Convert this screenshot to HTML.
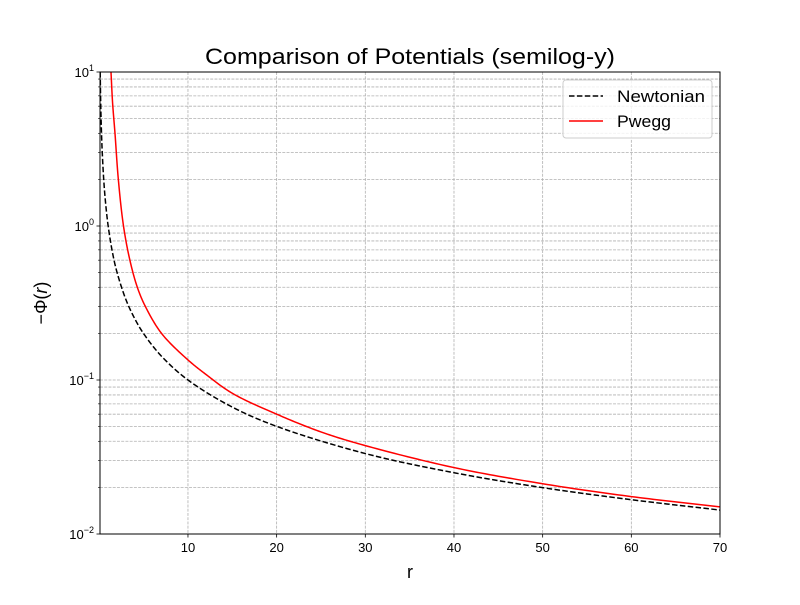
<!DOCTYPE html>
<html><head><meta charset="utf-8"><style>
body{margin:0;background:#fff;}
svg text{font-family:"Liberation Sans","DejaVu Sans",sans-serif;}
</style></head><body>
<svg id="chart" width="800" height="600" xmlns="http://www.w3.org/2000/svg">
<rect width="800" height="600" fill="#fff"/>
<g id="grid"></g>
<g id="series"></g>
<rect x="100" y="72" width="620" height="462" fill="none" stroke="#000" stroke-width="1"/>
<g id="ticks"></g>
<text x="205" y="64" font-size="22" textLength="410" lengthAdjust="spacingAndGlyphs">Comparison of Potentials (semilog-y)</text>
<text x="410" y="578" font-size="18" text-anchor="middle">r</text>
<text transform="translate(47,303) rotate(-90)" font-size="18" text-anchor="middle">−Φ(<tspan font-style="italic">r</tspan>)</text>
<g>
<rect x="563" y="80" width="149" height="58" rx="3" fill="#fff" fill-opacity="0.8" stroke="#ccc"/>
<line x1="569" y1="96" x2="603" y2="96" stroke="#000" stroke-width="1.5" stroke-dasharray="5.5,2.4"/>
<text x="617" y="102" font-size="17" textLength="88" lengthAdjust="spacingAndGlyphs">Newtonian</text>
<line x1="569" y1="121" x2="603" y2="121" stroke="#f00" stroke-width="1.5"/>
<text x="617" y="127" font-size="17" textLength="54" lengthAdjust="spacingAndGlyphs">Pwegg</text>
</g>
</svg>
<script>
const xTicks=[10,20,30,40,50,60,70];
const yDecades=[-2,-1,0,1];
const newtonR=[0.1,0.15,0.2,0.3,0.5,0.7,1,1.5,2,3,4,5,7,10,15,20,30,40,50,60,70];
const newtonV=[10,6.67,5,3.33,2,1.43,1,0.667,0.5,0.333,0.25,0.2,0.143,0.1,0.0667,0.05,0.0333,0.025,0.02,0.0167,0.0143];
const pweggR=[1.32,1.5,1.77,2.15,2.73,3.45,4.29,5.2,7.04,10,12,15,20,25,30,40,50,60,70];
const pweggV=[10,6.3,4,2,1,0.6,0.4,0.3,0.2,0.135,0.109,0.082,0.060,0.046,0.0375,0.0270,0.0212,0.0175,0.0150];
const X0=100,X1=720,Y0=534,Y1=72,xMin=0.08,xMax=70,lMin=-2,lMax=1;
const sx=r=>X0+(r-xMin)/(xMax-xMin)*(X1-X0);
const sy=v=>Y0-(Math.log10(v)-lMin)/(lMax-lMin)*(Y0-Y1);
const NS="http://www.w3.org/2000/svg";
function mk(tag,attrs,parent){const e=document.createElementNS(NS,tag);for(const k in attrs)e.setAttribute(k,attrs[k]);parent.appendChild(e);return e;}
const grid=document.getElementById('grid'),ticks=document.getElementById('ticks'),series=document.getElementById('series');
xTicks.forEach(t=>{const x=sx(t);
 const g=mk('line',{x1:x,x2:x,y1:Y1,y2:Y0,stroke:'#b0b0b0','stroke-width':0.8,'stroke-dasharray':'2.96,1.28'},grid);
 
 
 const tk=mk('line',{x1:x,x2:x,y1:Y0,y2:Y0+3.5,stroke:'#000','stroke-width':0.8},ticks);
 
 
 const tl=mk('text',{x:x,y:Y0+18,'font-size':13,'text-anchor':'middle'},ticks);tl.textContent=t;
 
 
});
yDecades.forEach(d=>{
 for(let m=1;m<=9;m++){const v=m*Math.pow(10,d);if(Math.log10(v)>lMax+1e-9)break;const y=sy(v);
  if(!(d===-2&&m===1)){const g=mk('line',{x1:X0,x2:X1,y1:y,y2:y,stroke:'#b0b0b0','stroke-width':0.8,'stroke-dasharray':'2.96,1.28'},grid);
  
  }
  const tk=mk('line',{x1:X0-(m===1?3.5:2),x2:X0,y1:y,y2:y,stroke:'#000','stroke-width':m===1?0.8:0.6},ticks);
  
  
  if(m===1){const tl=mk('text',{x:X0-6,y:y+5,'font-size':13,'text-anchor':'end'},ticks);
   tl.innerHTML='10<tspan dy="-6" font-size="9">'+(d<0?'−'+(-d):d)+'</tspan>';
   
   }
 }
});
// centripetal Catmull-Rom in pixel space
function path(R,V){const P=R.map((r,i)=>[sx(r),sy(V[i])]);const n=P.length;
 const ext0=[2*P[0][0]-P[1][0],2*P[0][1]-P[1][1]],extN=[2*P[n-1][0]-P[n-2][0],2*P[n-1][1]-P[n-2][1]];
 const Q=[ext0,...P,extN];let d='M'+P[0][0].toFixed(2)+','+P[0][1].toFixed(2);
 const dist=(a,b)=>Math.pow(Math.hypot(b[0]-a[0],b[1]-a[1])||1e-6,0.5);
 for(let i=1;i<Q.length-2;i++){const p0=Q[i-1],p1=Q[i],p2=Q[i+1],p3=Q[i+2];
  const t0=0,t1=t0+dist(p0,p1),t2=t1+dist(p1,p2),t3=t2+dist(p2,p3);
  for(let k=1;k<=20;k++){const t=t1+(t2-t1)*k/20;const pt=[0,1].map(j=>{
    const A1=(t1-t)/(t1-t0)*p0[j]+(t-t0)/(t1-t0)*p1[j],A2=(t2-t)/(t2-t1)*p1[j]+(t-t1)/(t2-t1)*p2[j],A3=(t3-t)/(t3-t2)*p2[j]+(t-t2)/(t3-t2)*p3[j];
    const B1=(t2-t)/(t2-t0)*A1+(t-t0)/(t2-t0)*A2,B2=(t3-t)/(t3-t1)*A2+(t-t1)/(t3-t1)*A3;
    return (t2-t)/(t2-t1)*B1+(t-t1)/(t2-t1)*B2;});
   d+=' L'+pt[0].toFixed(2)+','+pt[1].toFixed(2);}}
 return d;}
const cp=mk('clipPath',{id:'clip'},series);mk('rect',{x:X0,y:Y1,width:X1-X0,height:Y0-Y1},cp);
const n=mk('path',{d:path(newtonR,newtonV),fill:'none',stroke:'#000','stroke-width':1.5,'stroke-dasharray':'5.5,2.4','clip-path':'url(#clip)'},series);


const p=mk('path',{d:path(pweggR,pweggV),fill:'none',stroke:'#f00','stroke-width':1.5,'clip-path':'url(#clip)'},series);


</script>
</body></html>
